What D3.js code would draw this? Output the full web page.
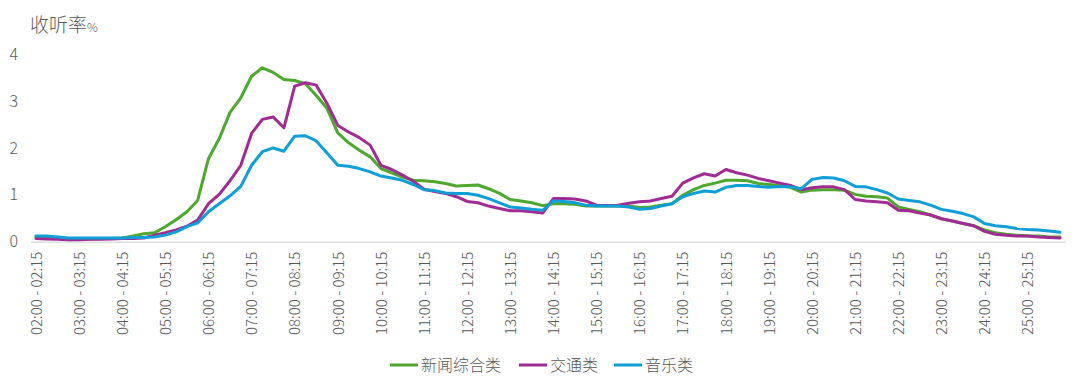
<!DOCTYPE html>
<html><head><meta charset="utf-8">
<script src="https://cdn.jsdelivr.net/npm/d3@7"></script>
<style>
html,body{margin:0;padding:0;background:#fff;}
svg{display:block;}
text{font-family:"Noto Sans CJK SC","Noto Sans",sans-serif;fill:#595959;font-weight:300;}
</style></head>
<body>
<svg id="chart" width="1080" height="386"></svg>
<script>
const categories = [
"02:00 - 02:15","02:15 - 02:30","02:30 - 02:45","02:45 - 03:00",
"03:00 - 03:15","03:15 - 03:30","03:30 - 03:45","03:45 - 04:00",
"04:00 - 04:15","04:15 - 04:30","04:30 - 04:45","04:45 - 05:00",
"05:00 - 05:15","05:15 - 05:30","05:30 - 05:45","05:45 - 06:00",
"06:00 - 06:15","06:15 - 06:30","06:30 - 06:45","06:45 - 07:00",
"07:00 - 07:15","07:15 - 07:30","07:30 - 07:45","07:45 - 08:00",
"08:00 - 08:15","08:15 - 08:30","08:30 - 08:45","08:45 - 09:00",
"09:00 - 09:15","09:15 - 09:30","09:30 - 09:45","09:45 - 10:00",
"10:00 - 10:15","10:15 - 10:30","10:30 - 10:45","10:45 - 11:00",
"11:00 - 11:15","11:15 - 11:30","11:30 - 11:45","11:45 - 12:00",
"12:00 - 12:15","12:15 - 12:30","12:30 - 12:45","12:45 - 13:00",
"13:00 - 13:15","13:15 - 13:30","13:30 - 13:45","13:45 - 14:00",
"14:00 - 14:15","14:15 - 14:30","14:30 - 14:45","14:45 - 15:00",
"15:00 - 15:15","15:15 - 15:30","15:30 - 15:45","15:45 - 16:00",
"16:00 - 16:15","16:15 - 16:30","16:30 - 16:45","16:45 - 17:00",
"17:00 - 17:15","17:15 - 17:30","17:30 - 17:45","17:45 - 18:00",
"18:00 - 18:15","18:15 - 18:30","18:30 - 18:45","18:45 - 19:00",
"19:00 - 19:15","19:15 - 19:30","19:30 - 19:45","19:45 - 20:00",
"20:00 - 20:15","20:15 - 20:30","20:30 - 20:45","20:45 - 21:00",
"21:00 - 21:15","21:15 - 21:30","21:30 - 21:45","21:45 - 22:00",
"22:00 - 22:15","22:15 - 22:30","22:30 - 22:45","22:45 - 23:00",
"23:00 - 23:15","23:15 - 23:30","23:30 - 23:45","23:45 - 24:00",
"24:00 - 24:15","24:15 - 24:30","24:30 - 24:45","24:45 - 25:00",
"25:00 - 25:15","25:15 - 25:30","25:30 - 25:45","25:45 - 26:00"
];

const newsValues = [
0.10,0.09,0.07,0.05,0.05,0.06,0.07,0.07,0.08,0.12,0.17,0.19,
0.32,0.47,0.64,0.88,1.77,2.20,2.76,3.07,3.53,3.71,3.61,3.46,
3.44,3.37,3.12,2.84,2.32,2.11,1.95,1.81,1.56,1.47,1.38,1.31,
1.30,1.28,1.24,1.19,1.20,1.21,1.13,1.03,0.90,0.87,0.83,0.77,
0.81,0.81,0.80,0.76,0.76,0.76,0.76,0.76,0.73,0.74,0.78,0.81,
0.99,1.11,1.20,1.25,1.31,1.31,1.30,1.24,1.22,1.20,1.16,1.06,
1.10,1.11,1.11,1.10,1.01,0.97,0.96,0.93,0.74,0.69,0.64,0.57,
0.49,0.44,0.39,0.34,0.25,0.19,0.16,0.14,0.12,0.12,0.10,0.10
];

const trafficValues = [
0.07,0.06,0.05,0.04,0.04,0.05,0.05,0.06,0.07,0.07,0.08,0.14,
0.19,0.25,0.33,0.46,0.81,1.01,1.30,1.63,2.31,2.61,2.66,2.43,
3.32,3.39,3.34,2.95,2.48,2.34,2.22,2.06,1.63,1.54,1.42,1.29,
1.12,1.07,1.03,0.96,0.86,0.83,0.76,0.71,0.66,0.66,0.64,0.61,
0.92,0.92,0.91,0.87,0.78,0.77,0.78,0.82,0.85,0.87,0.92,0.97,
1.25,1.36,1.45,1.40,1.54,1.47,1.42,1.35,1.30,1.25,1.20,1.11,
1.15,1.17,1.17,1.11,0.90,0.87,0.85,0.83,0.67,0.66,0.61,0.57,
0.49,0.44,0.39,0.34,0.22,0.16,0.14,0.12,0.12,0.10,0.09,0.08
];

const musicValues = [
0.12,0.12,0.10,0.08,0.08,0.08,0.08,0.08,0.08,0.09,0.09,0.10,
0.14,0.21,0.32,0.40,0.64,0.81,0.98,1.18,1.63,1.92,2.00,1.93,
2.25,2.26,2.15,1.89,1.63,1.61,1.56,1.49,1.40,1.36,1.31,1.22,
1.11,1.09,1.04,1.03,1.03,0.99,0.92,0.83,0.74,0.72,0.69,0.67,
0.87,0.86,0.83,0.78,0.76,0.76,0.76,0.74,0.69,0.71,0.76,0.81,
0.96,1.03,1.08,1.06,1.16,1.20,1.20,1.18,1.16,1.18,1.17,1.13,
1.33,1.37,1.36,1.30,1.18,1.17,1.11,1.04,0.91,0.88,0.85,0.78,
0.69,0.65,0.60,0.53,0.39,0.34,0.32,0.28,0.26,0.25,0.23,0.20
];

const seriesNames = ["新闻综合类","交通类","音乐类"];
const seriesColors = ["#4EA72E","#A02B93","#0F9ED5"];
const yTicks = [0,1,2,3,4];
const yTitle = "收听率";
const yTitleUnit = "%";

const series = [newsValues, trafficValues, musicValues].map((v,k)=>({name:seriesNames[k], color:seriesColors[k], values:v}));

const svg = d3.select("#chart");
const x = d3.scalePoint().domain(categories).range([30.6, 1065.4]).padding(0.5);
const y = d3.scaleLinear().domain([0,4]).range([241.7, 54.2]);

// title
const t = svg.append("text").attr("x",30).attr("y",32).style("font-size","19px");
t.append("tspan").text(yTitle);
t.append("tspan").style("font-size","12px").text(yTitleUnit);

// y axis labels
const yAxis = d3.axisLeft(y).tickValues(yTicks).tickSize(0).tickPadding(0).tickFormat(d3.format("d"));
const yg = svg.append("g").attr("transform","translate(18,0)").call(yAxis);
yg.select(".domain").remove();
yg.selectAll("text").style("font-size","16px").attr("font-family",null).attr("fill","#595959");

// x axis
const xAxis = d3.axisBottom(x).tickSize(0).tickPadding(0)
  .tickValues(categories.filter((d,i)=>i%4===0));
const xg = svg.append("g").attr("transform","translate(0,241.7)").call(xAxis);
xg.select(".domain").attr("stroke","#d9d9d9").attr("stroke-width",1.3);
xg.selectAll("text")
  .attr("font-family",null).attr("fill","#595959")
  .style("font-size","15px")
  .attr("text-anchor","end")
  .attr("transform","rotate(-90)")
  .attr("x",-10).attr("y",0).attr("dy","0.35em");

// lines
const line = d3.line().x((d,i)=>x(categories[i])).y(d=>y(d));
svg.append("g").selectAll("path").data(series).join("path")
  .attr("d",d=>line(d.values))
  .attr("fill","none")
  .attr("stroke",d=>d.color)
  .attr("stroke-width",3)
  .attr("stroke-linejoin","round")
  .attr("stroke-linecap","round");

// legend
const legendX = [390, 519, 614];
const lg = svg.append("g").attr("transform","translate(0,365)");
series.forEach((s,k)=>{
  lg.append("line").attr("x1",legendX[k]).attr("x2",legendX[k]+28).attr("y1",0).attr("y2",0)
    .attr("stroke",s.color).attr("stroke-width",3);
  lg.append("text").attr("x",legendX[k]+31).attr("y",0).attr("dy","0.35em")
    .style("font-size","16px").text(s.name);
});
</script>
</body></html>
